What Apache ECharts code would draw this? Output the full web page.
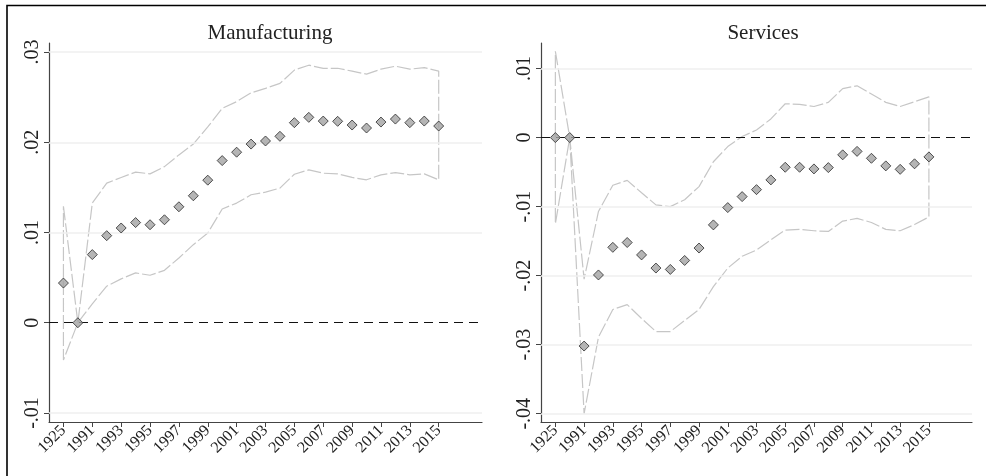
<!DOCTYPE html>
<html>
<head>
<meta charset="utf-8">
<script src="https://cdn.jsdelivr.net/npm/echarts@6/dist/echarts.min.js"></script>
<style>html,body{margin:0;padding:0;background:#fff}#c{width:986px;height:476px}</style>
</head>
<body>
<div id="c"></div>
<script>
// ---- data ----
var years = ['1925','1990','1991','1992','1993','1994','1995','1996','1997','1998','1999','2000','2001','2002','2003','2004','2005','2006','2007','2008','2009','2010','2011','2012','2013','2014','2015'];
var xTickIdx = [0,2,4,6,8,10,12,14,16,18,20,22,24,26];

var manufCoef = [0.0044,0,0.00755,0.00965,0.0105,0.0111,0.01086,0.01141,0.01285,0.01407,0.0158,0.01797,0.0189,0.0198,0.02014,0.02066,0.02217,0.02276,0.02235,0.02232,0.02191,0.02158,0.02224,0.02257,0.02217,0.02235,0.0218];
var manufUpper = [0.0129,0,0.01326,0.01547,0.0161,0.01669,0.0165,0.0173,0.0186,0.0198,0.0217,0.02376,0.0245,0.02548,0.02597,0.02652,0.028,0.02854,0.02818,0.0282,0.02788,0.02755,0.0281,0.02843,0.0281,0.02828,0.02788];
var manufLower = [-0.00413,0,0.0021,0.00405,0.00486,0.00552,0.00526,0.00581,0.00718,0.00865,0.00994,0.0126,0.01326,0.01418,0.01447,0.01492,0.01646,0.01694,0.01657,0.0165,0.0161,0.01584,0.01639,0.01664,0.01639,0.0165,0.01584];

var servCoef = [0,0,-0.0302,-0.0199,-0.0159,-0.0152,-0.0170,-0.0189,-0.0191,-0.0178,-0.0160,-0.01265,-0.01014,-0.00855,-0.00754,-0.00613,-0.0043,-0.0043,-0.00454,-0.00435,-0.0025,-0.0020,-0.0030,-0.0041,-0.0046,-0.0038,-0.0028];
var servUpper = [0.0125,0,-0.0205,-0.0107,-0.0069,-0.0062,-0.0080,-0.00975,-0.0100,-0.0090,-0.0071,-0.0035,-0.0013,0.00015,0.0011,0.0027,0.0049,0.0048,0.0045,0.0051,0.0071,0.0075,0.0063,0.0051,0.0045,0.0052,0.0059];
var servLower = [-0.0125,0,-0.0400,-0.0289,-0.0249,-0.0242,-0.0262,-0.0281,-0.0281,-0.0265,-0.0249,-0.0216,-0.0189,-0.0172,-0.0163,-0.0148,-0.0134,-0.0133,-0.0135,-0.0136,-0.0121,-0.0117,-0.0123,-0.0133,-0.0135,-0.0126,-0.0115];

var manufYTicks = [-0.01,0,0.01,0.02,0.03];
var servYTicks = [-0.04,-0.03,-0.02,-0.01,0,0.01];
var titles = ['Manufacturing','Services'];

// ---- helpers ----
function fmt(v){
  if (Math.abs(v) < 1e-9) return '0';
  var s = (Math.round(v*100)/100).toFixed(2);
  return s.replace('0.', '.');
}
function polygon(up, lo){
  var d = [];
  for (var i=0;i<up.length;i++) d.push([i, up[i]]);
  for (var j=lo.length-1;j>=0;j--) d.push([j, lo[j]]);
  d.push([0, up[0]]);
  return d;
}
function pts(arr){ return arr.map(function(v,i){return [i,v];}); }

var serif = 'Liberation Serif, Times New Roman, serif';
var grids = [
  {left:49, right:986-482, top:43, bottom:476-422},
  {left:541, right:986-972, top:43, bottom:476-422}
];
var yRanges = [[-0.011,0.031],[-0.0412,0.0137]];
var yTicks = [manufYTicks, servYTicks];
var coefs = [manufCoef, servCoef], ups=[manufUpper, servUpper], los=[manufLower, servLower];

var option = {
  backgroundColor:'#fff',
  animation:false,
  title: titles.map(function(t,k){
    return {text:t, left:(k===0?265:758), top:18, textAlign:'center',
      textStyle:{fontFamily:serif, fontSize:21, fontWeight:'normal', color:'#222'}};
  }),
  grid: grids,
  xAxis: [0,1].map(function(k){
    return {type:'value', gridIndex:k, min:-1, max:29,
      axisLine:{show:true, onZero:false, lineStyle:{color:'#444', width:1.2}},
      axisTick:{show:true, length:5, customValues:xTickIdx, lineStyle:{color:'#444'}},
      axisLabel:{customValues:xTickIdx, rotate:45, margin:6, fontFamily:serif, fontSize:16, color:'#222',
        formatter:function(v){return years[Math.round(v)] || '';}},
      splitLine:{show:false}};
  }),
  yAxis: [0,1].map(function(k){
    return {type:'value', gridIndex:k, min:yRanges[k][0], max:yRanges[k][1],
      axisLine:{show:true, onZero:false, lineStyle:{color:'#444', width:1.2}},
      axisTick:{show:true, length:5, customValues:yTicks[k], lineStyle:{color:'#444'}},
      axisLabel:{customValues:yTicks[k], rotate:90, margin:6, fontFamily:serif, fontSize:20, color:'#222',
        formatter:function(v){return fmt(v);}},
      splitLine:{show:false}};
  }),
  series: []
};

[0,1].forEach(function(k){
  // gridlines
  option.series.push({type:'line', xAxisIndex:k, yAxisIndex:k, data:[], silent:true,
    markLine:{silent:true, symbol:'none', label:{show:false},
      lineStyle:{color:'#efefef', width:1.5, type:'solid'},
      data: yTicks[k].filter(function(v){return Math.abs(v)>1e-9;}).map(function(v){return {yAxis:v};})}});
  // CI outline
  option.series.push({type:'line', xAxisIndex:k, yAxisIndex:k, data:polygon(ups[k], los[k]),
    showSymbol:false, silent:true, z:2,
    lineStyle:{color:'#c6c6c6', width:1.2, type:[14,3]}});
  // zero line
  option.series.push({type:'line', xAxisIndex:k, yAxisIndex:k, data:[], silent:true, z:3,
    markLine:{silent:true, symbol:'none', label:{show:false},
      lineStyle:{color:'#111', width:1.2, type:[9,6]},
      data:[{yAxis:0}]}});
  // coefficients
  option.series.push({type:'scatter', xAxisIndex:k, yAxisIndex:k, data:pts(coefs[k]), z:5,
    symbol:'diamond', symbolSize:10,
    itemStyle:{color:'#a3a3a3', borderColor:'#2a2a2a', borderWidth:1}});
});

option.graphic = [
  {type:'polyline', shape:{points:[[7,476],[7,5.5],[986,5.5]]}, style:{stroke:'#000', lineWidth:1.6, fill:null}, silent:true}
];

var chart = echarts.init(document.getElementById('c'), null, {renderer:'canvas'});
chart.setOption(option);
</script>
</body>
</html>
